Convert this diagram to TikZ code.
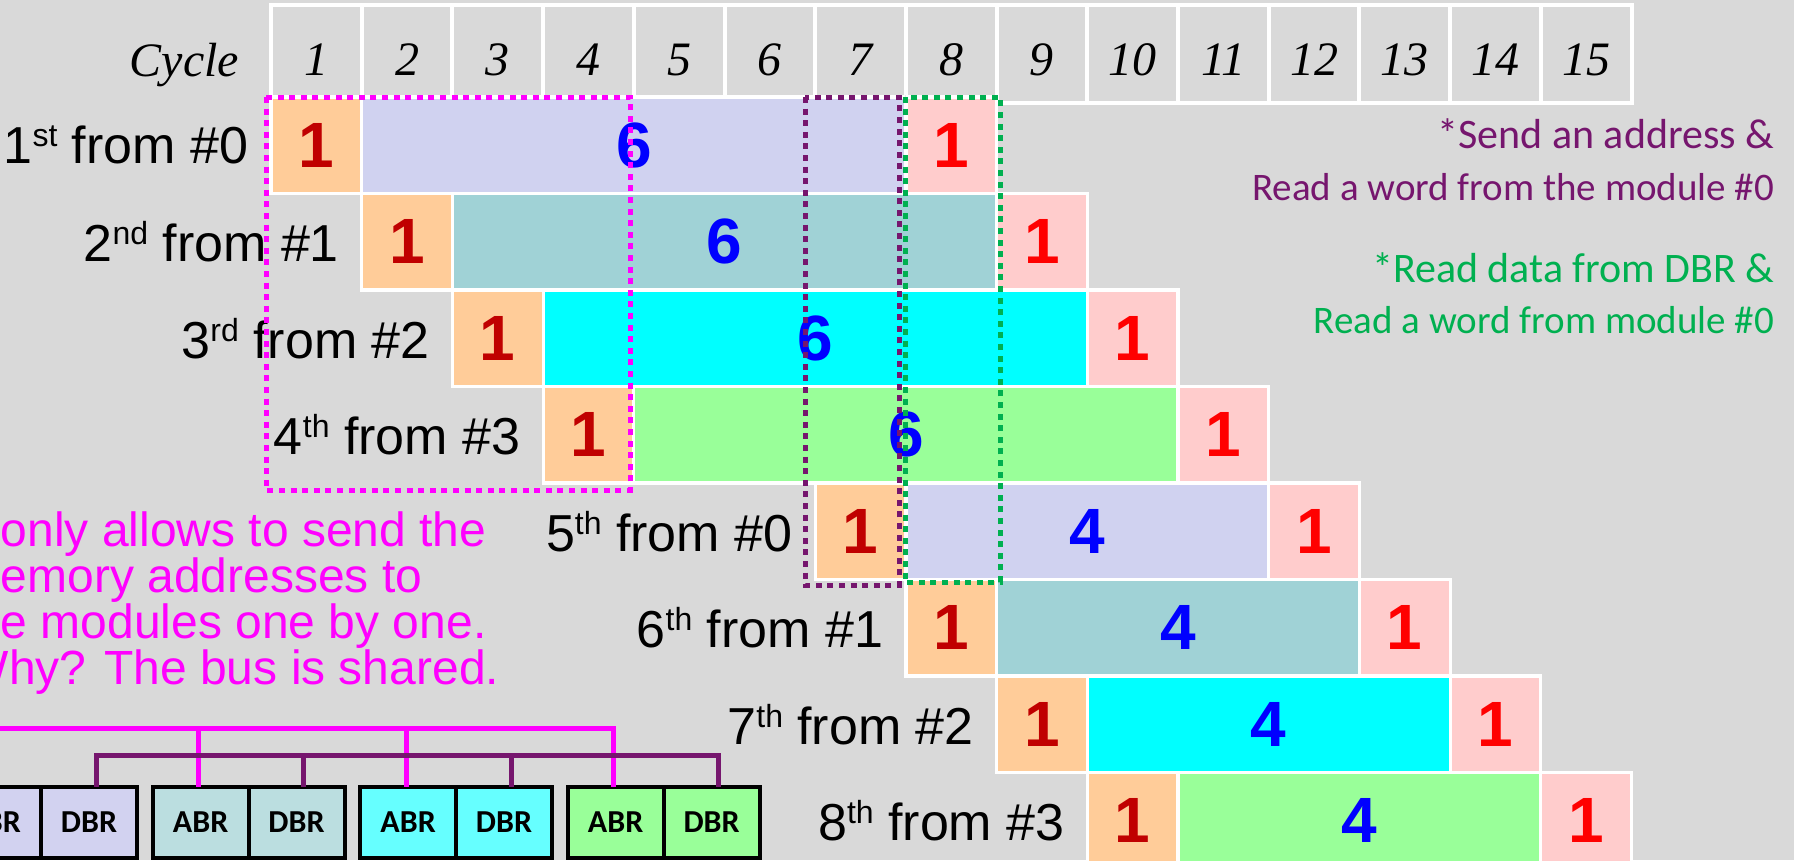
\documentclass[tikz,border=0pt]{standalone}
\usepackage{fontspec}
\setmainfont{Liberation Sans}
\newfontfamily\timesfont{Liberation Serif}
\newfontfamily\calfont{Carlito}
\usetikzlibrary{positioning}

\definecolor{bggray}{RGB}{217,217,217}
\definecolor{addrorange}{RGB}{255,204,153}
\definecolor{readpink}{RGB}{255,204,204}
\definecolor{lavbox}{RGB}{208,210,240}
\definecolor{tealbox}{RGB}{160,210,214}
\definecolor{cyanbox}{RGB}{0,255,255}
\definecolor{greenbox}{RGB}{153,255,153}
\definecolor{darkred}{RGB}{192,0,0}
\definecolor{busmagenta}{RGB}{255,0,255}
\definecolor{buspurple}{RGB}{118,22,110}
\definecolor{dotgreen}{RGB}{0,176,80}
\definecolor{modlav}{RGB}{210,210,240}
\definecolor{modteal}{RGB}{187,222,224}
\definecolor{modcyan}{RGB}{102,255,255}
\definecolor{modgreen}{RGB}{153,255,153}

% ordinal suffix, set small and raised
\newcommand\ordsup[1]{\raisebox{4.25pt}{\fontsize{8}{8}\selectfont #1}}

\tikzset{
  hcell/.style={draw=white,line width=1pt,minimum width=22.675pt,minimum height=24.5pt,inner sep=0pt,outer sep=0pt},
  hnum/.style={font=\timesfont\itshape\fontsize{12}{12}\selectfont,inner sep=0pt,anchor=base},
  tbox/.style={draw=white,line width=0.8pt,minimum height=24.125pt,inner sep=0pt,outer sep=0pt,
    font=\bfseries\fontsize{16}{16}\selectfont},
  obox/.style={tbox,fill=addrorange,text=darkred,minimum width=22.675pt},
  pbox/.style={tbox,fill=readpink,text=red,minimum width=22.675pt},
  mbox/.style={tbox,text=blue},
  rowlab/.style={font=\fontsize{13}{13}\selectfont,inner sep=0pt},
  dotbox/.style={line width=1.25pt,dash pattern=on 1.5pt off 1.4pt},
  sendtxt/.style={font=\calfont\fontsize{9.75}{9.75}\selectfont,text=buspurple,inner sep=0pt,anchor=base east},
  readtxt/.style={sendtxt,text=dotgreen},
  headtxt/.style={font=\calfont\fontsize{10.5}{10.5}\selectfont},
  bustxt/.style={font=\fontsize{12}{12}\selectfont,text=busmagenta,inner sep=0pt,anchor=base west},
  regbox/.style={draw=black,line width=1pt,minimum width=23.975pt,minimum height=17.75pt,inner sep=0pt,outer sep=0pt,
    font=\calfont\bfseries\fontsize{8}{8}\selectfont},
  addrbus/.style={busmagenta,line width=1.25pt},
  databus/.style={buspurple,line width=1.25pt}
}

\begin{document}
\begin{tikzpicture}[x=0.25pt,y=-0.25pt]
  \useasboundingbox (0,0) rectangle (1794,860);
  \clip (0,0) rectangle (1794,860);
  \fill[bggray] (0,0) rectangle (1794,860);
  % cycle header
  \foreach \c in {1,...,15}{
    \node[hcell] (h\c) at ({271+(\c-0.5)*90.7},54) {};
    \node[hnum] (n\c) at ([yshift=7pt]h\c.south) {\c};
  }
  \node[hnum,anchor=base east] (cycle) at (240,76) {Cycle};
  % one row per read: address, access, transfer
  \foreach \r/\c/\n/\col/\lab in {
      1/1/6/lavbox/{1\ordsup{st} from \#0},
      2/2/6/tealbox/{2\ordsup{nd} from \#1},
      3/3/6/cyanbox/{3\ordsup{rd} from \#2},
      4/4/6/greenbox/{4\ordsup{th} from \#3},
      5/7/4/lavbox/{5\ordsup{th} from \#0},
      6/8/4/tealbox/{6\ordsup{th} from \#1},
      7/9/4/cyanbox/{7\ordsup{th} from \#2},
      8/10/4/greenbox/{8\ordsup{th} from \#3}}{
    \node[obox] (o\r) at ({271+(\c-0.5)*90.7},{97+(\r-0.5)*96.5}) {1};
    \node[mbox,fill=\col,minimum width=\n*22.675pt,right=0pt of o\r] (m\r) {\n};
    \node[pbox,right=0pt of m\r] (p\r) {1};
    \node[rowlab,left=5.5pt of o\r] (l\r) {\lab};
  }
  % overlap windows
  \draw[dotbox,busmagenta] (266,97) rectangle (630,490);
  \draw[dotbox,buspurple] (805,97) rectangle (899,585);
  \draw[dotbox,dotgreen] (905,97) rectangle (1000,582);
  % notes
  \node[sendtxt,headtxt] (send1) at (1775,148) {*Send an address \&};
  \node[sendtxt] (send2) at (1775,200) {Read a word from the module \#0};
  \node[readtxt,headtxt] (read1) at (1775,282) {*Read data from DBR \&};
  \node[readtxt] (read2) at (1775,333) {Read a word from module \#0};
  \node[bustxt] (bus1) at (0,546.5) {only allows to send the};
  \node[bustxt] (bus2) at (0,592.5) {emory addresses to};
  \node[bustxt] (bus3) at (0,638.5) {e modules one by one.};
  \node[bustxt] (bus4) at (-37,684.5) {Why? The bus is shared.};
  % memory modules and the shared bus
  \foreach \g/\col in {1/modlav,2/modteal,3/modcyan,4/modgreen}{
    \node[regbox,fill=\col] (abr\g) at ({-6.85+(\g-1)*207.5},822) {ABR};
    \node[regbox,fill=\col,right=0pt of abr\g] (dbr\g) {DBR};
  }
  \coordinate (alev) at (-20,728);
  \coordinate (dlev) at (0,755);
  \draw[addrbus] (alev) -| ([xshift=-0.5pt]abr4.north);
  \foreach \g in {1,2,3}
    \draw[addrbus] ([xshift=-0.5pt]abr\g.north) -- ([xshift=-0.5pt]abr\g.north |- alev);
  \draw[databus] ([xshift=1.75pt]dbr1.north) |- ([xshift=1.75pt]dbr4.north |- dlev) -- ([xshift=1.75pt]dbr4.north);
  \foreach \g in {2,3}
    \draw[databus] ([xshift=1.75pt]dbr\g.north) -- ([xshift=1.75pt]dbr\g.north |- dlev);
\end{tikzpicture}
\end{document}
